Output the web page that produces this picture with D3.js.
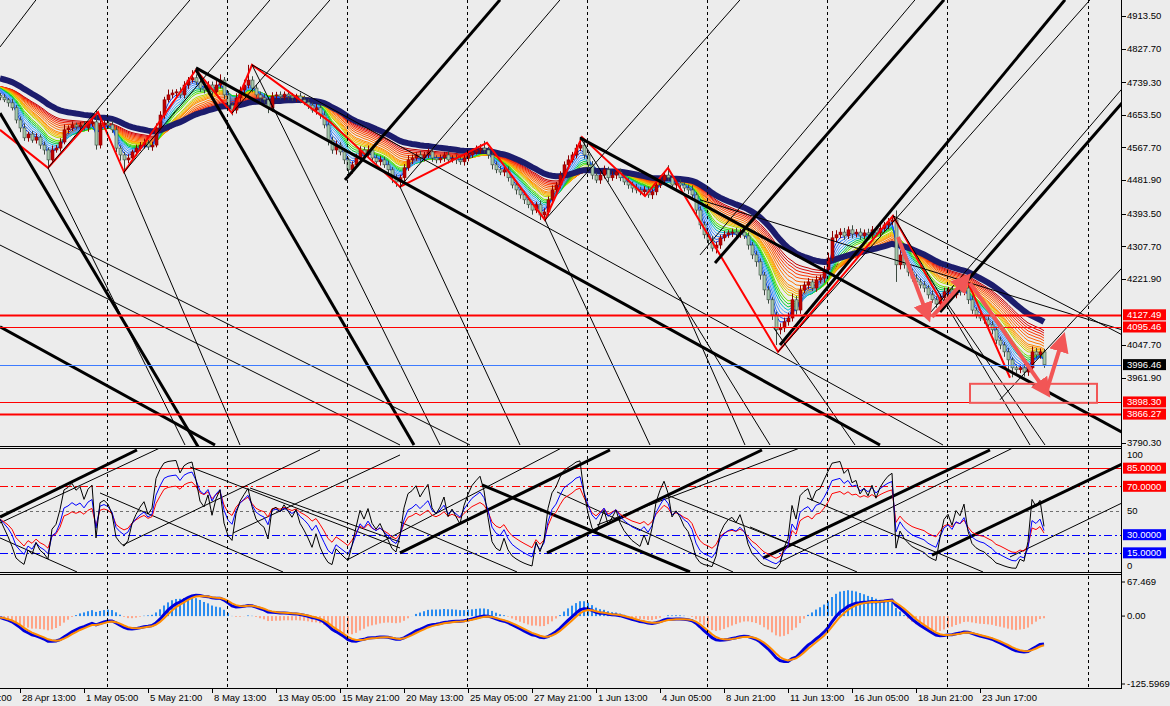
<!DOCTYPE html>
<html><head><meta charset="utf-8">
<script src="https://cdn.jsdelivr.net/npm/d3@7/dist/d3.min.js"></script>
<style>
body{margin:0;background:#ececec;}
svg{display:block;font-family:"Liberation Sans",Arial,sans-serif;font-size:9.5px;}
</style></head><body>
<svg id="chart" width="1170" height="706"></svg>
<script>
// H4 candles, one per bar (bar 0 = left edge), closes
const closes = [
4700,4693,4685,4672,4640,4619,4593,4603,4587,4595,
4574,4561,4535,4561,4566,4582,4614,4619,4627,4622,
4627,4619,4630,4635,4574,4627,4632,4627,4614,4566,
4548,4535,4540,4556,4566,4574,4580,4569,4574,4619,
4653,4693,4706,4711,4714,4706,4732,4745,4751,4740,
4724,4719,4732,4714,4732,4745,4706,4679,4666,4698,
4719,4732,4745,4724,4706,4698,4693,4672,4703,4706,
4701,4708,4703,4698,4703,4693,4687,4679,4666,4672,
4653,4627,4587,4561,4574,4556,4535,4509,4522,4540,
4561,4548,4561,4540,4530,4535,4522,4509,4488,4477,
4488,4514,4535,4540,4548,4540,4548,4556,4540,4535,
4540,4548,4535,4540,4535,4530,4540,4548,4556,4561,
4566,4561,4548,4522,4509,4503,4509,4488,4469,4456,
4443,4430,4417,4403,4417,4390,4398,4430,4456,4469,
4495,4522,4535,4548,4566,4574,4548,4522,4495,4482,
4495,4509,4488,4495,4503,4488,4477,4469,4461,4456,
4451,4456,4443,4451,4469,4482,4495,4488,4469,4474,
4469,4461,4456,4443,4403,4364,4338,4324,4303,4311,
4330,4338,4343,4345,4340,4345,4335,4311,4285,4267,
4232,4193,4167,4127,4088,4093,4109,4119,4167,4140,
4193,4206,4214,4198,4219,4224,4246,4277,4330,4338,
4345,4335,4351,4340,4345,4335,4343,4338,4351,4343,
4355,4364,4372,4377,4259,4285,4259,4240,4224,4214,
4206,4198,4180,4167,4156,4172,4188,4193,4180,4193,
4188,4198,4167,4140,4127,4119,4114,4101,4088,4061,
4048,4030,4009,3988,3983,3988,3977,3988,4030,4022,
4030,3996
];
const upWick = [
6,8,5,10,7,9,12,6,8,10, 7,9,6,12,8,10,14,7,9,6, 8,10,7,9,30,12,8,6,10,9, 7,8,10,6,9,8,11,7,9,12,
10,8,14,9,7,12,10,8,20,9, 11,8,10,9,12,15,8,10,7,12, 9,14,40,10,8,9,11,7,10,8, 9,7,10,8,6,9,11,8,7,10,
8,10,7,9,12,8,10,6,9,11, 10,8,12,7,9,10,8,11,7,9, 8,10,12,9,7,10,8,9,11,7, 9,8,10,7,9,11,8,10,9,12,
10,19,8,7,9,10,8,9,7,10, 8,10,7,9,8,11,10,9,12,8, 10,9,12,8,10,21,9,8,10,7, 9,11,8,10,7,9,8,10,9,11,
8,10,9,7,11,12,10,26,8,9, 10,8,9,12,7,10,9,8,11,9, 8,10,7,9,11,8,10,9,8,10, 9,8,10,7,9,12,11,14,16,10,
12,9,10,8,11,9,10,14,18,12, 10,11,9,12,8,10,9,11,10,9, 12,8,10,13,25,12,9,10,8,11, 9,10,8,12,9,10,11,8,10,9,
8,10,9,11,7,10,8,9,10,8, 9,8,10,7,9,8,10,12,14,10, 9,8
];
const dnWick = [
8,6,10,7,9,11,8,10,7,9, 10,12,21,8,7,9,6,10,8,7, 9,7,10,8,12,9,7,10,8,11, 15,32,9,8,10,7,9,8,10,6,
8,10,7,9,11,8,9,10,7,8, 10,9,12,8,10,9,11,12,14,9, 10,8,9,11,7,10,9,14,10,8, 7,9,10,8,11,9,8,10,7,12,
10,9,14,10,12,9,11,13,10,8, 9,10,8,11,9,10,8,12,14,13, 10,9,8,11,7,10,9,8,10,9, 8,10,9,7,11,8,10,9,8,7,
9,8,10,12,9,8,11,10,9,12, 10,11,9,12,8,13,10,9,8,10, 9,8,10,7,9,8,10,9,11,8, 10,9,11,8,10,9,8,10,12,9,
9,10,8,11,9,8,10,9,11,10, 8,9,11,10,12,11,10,13,9,14, 10,9,8,11,9,10,8,12,11,13, 12,14,10,13,40,12,11,10,9,12,
10,9,11,8,10,9,12,10,8,11, 9,10,8,11,9,10,8,9,10,9, 10,9,11,8,45,12,10,11,9,10, 9,11,10,8,10,9,11,10,8,9,
10,9,11,10,9,8,10,11,12,10, 11,13,27,25,10,9,12,10,8,9, 10,8
];
const firstOpen = 4705;
const ribbonSeed = 4730;
const navySeed = 4752;
const rsiSeedGain = 4.5, rsiSeedLoss = 6;

// moving-average ribbon periods, fastest (blue) to slowest (red)
const ribbonPeriods = [3,4,5,6,7,8,9,10,12,13,14,15,16,18,20,22,24,26,28,30];
const navyPeriod = 38;

// right price axis
const priceTicks = [4913.50,4827.70,4739.30,4653.50,4567.70,4481.90,4393.50,4307.70,4221.90,4047.70,3961.90,3790.30];
const levelValues = [4127.49,4095.46,3996.46,3898.30,3866.27];

// zigzag vertices (bar, price)
const zigBars   = [0,12,24.5,31,49,58,63,82.5,100,121.75,136.25,145.5,161.25,167,194.5,223.25,235.75,241.75,252.5];
const zigPrices = [4614,4514,4661,4503,4772,4658,4785,4635,4464,4580,4377,4595,4440,4514,4030,4388,4154,4219,3962];

// hand-drawn arrows and box (bar, price)
const arrows = [[224.5,4332,232,4122],[233,4122,241.75,4225],[242.5,4211,261.75,3922],[261.75,3930,265.75,4067]];
const boxRange = [242.5,3946,274.25,3896];

// trend lines in the price window (bar, price, bar, price)
const priceThick = [
[49,4777,220,3785],[145,4593,280.5,3819],[178.75,4264,236,4956],[235,4135,280.5,4685],
[195,4048,266.25,4956],[49,4772,103.5,3785],[0,4658,50,3772],[0,4096,53.75,3785],[86.25,4482,125,4956]
];
const priceThin = [
[0,4832,9,4956],[12,4514,47.5,4956],[31,4503,67.5,4956],[58,4658,82.5,4956],[100,4464,140,4956],
[136.25,4377,185,4956],[194.5,4030,272.5,4956],[232.5,4132,280.5,4722],[250,3904,280.5,4251],
[175,4285,228.75,4956],[223.25,4388,280.5,4075],[0,4403,117.5,3785],[0,4311,100,3785],
[63,4785,235.75,3785],[175,4430,280.5,4088],[12,4514,46.25,3785],[31,4503,60,3785],
[63,4785,110,3785],[100,4464,130,3785],[136.25,4377,162.5,3785],[145,4595,192.5,3785],
[170,4174,186.25,3785],[193.25,4096,213.75,3785],[236.75,4159,261.25,3785],[223.25,4388,257.5,3785]
];

// oscillator window
const oscLevels = [85,70,50,30,15];
const oscThick = [
[0,44.6,34.25,100],[100,14.9,152.5,100],[136.75,14.9,190.5,100],[190.75,10.7,247.5,100],
[233,13.2,280.5,88.4],[120.5,71.1,172.5,-0.8]
];
const oscThin = [
[0,39.7,40,101.7],[30.75,21.5,80,100],[58.25,31.4,100,95.9],[86.75,9.1,140,101],
[149.25,38,200,101.7],[195,7.4,253.25,101.7],[252.5,11.6,280.5,56.2],
[0,27.3,19.25,-0.8],[25,64.5,70.75,-0.8],[47.5,86,100,19],[62.5,68.6,100,24],
[100,40.5,129.25,-0.8],[139.25,65.3,183.25,-0.8],[166.75,62.8,200,19],
[187.5,36.4,214.25,-0.8],[201.75,60.3,245.75,-0.8]
];

// time axis
const timeLabels = ["23 Apr 21:00","28 Apr 13:00","1 May 05:00","5 May 21:00","8 May 13:00","13 May 05:00",
"15 May 21:00","20 May 13:00","25 May 05:00","27 May 21:00","1 Jun 13:00","4 Jun 05:00","8 Jun 21:00",
"11 Jun 13:00","16 Jun 05:00","18 Jun 21:00","23 Jun 17:00"];
const timeLabelBars = [-11,5,21,37,53,69,85,101,117,133,149,165,181,197,213,229,245];
const gridBars = [26.75,56.75,86.75,116.75,146.75,176.75,206.75,236.75,272];

// ---------- indicators ----------
function ema(src, n, seed) {
  const k = 2 / (n + 1);
  let prev = seed === undefined ? src[0] : seed;
  return src.map(v => (prev = prev + k * (v - prev)));
}
function rsi(src, n) {
  let ag = rsiSeedGain, al = rsiSeedLoss;
  return src.map((v, i) => {
    const d = i ? v - src[i - 1] : 0;
    ag = (ag * (n - 1) + Math.max(d, 0)) / n;
    al = (al * (n - 1) + Math.max(-d, 0)) / n;
    return 100 - 100 / (1 + ag / al);
  });
}

const candles = closes.map((c, i) => {
  const o = i ? closes[i - 1] : firstOpen;
  return {i, o, c, h: Math.max(o, c) + upWick[i], l: Math.min(o, c) - dnWick[i]};
});
const ribbon = ribbonPeriods.map(p => ema(closes, p, ribbonSeed));
const navy = ema(closes, navyPeriod, navySeed);
const rsiFast = rsi(closes, 5), rsiMid = rsi(closes, 9), rsiSlow = rsi(closes, 14);
const e12 = ema(closes, 12, ribbonSeed), e26 = ema(closes, 26, ribbonSeed);
const macd = e12.map((v, i) => v - e26[i]);
const signal = ema(macd, 3);
const macdSlow = ema(macd, 24);
const hist = macd.map((v, i) => v - macdSlow[i]);

// ---------- drawing ----------
const svg = d3.select('#chart');
const axisX = 1122;
const x = d3.scaleLinear().domain([0, 280.5]).range([0, axisX]);
const yP = d3.scaleLinear().domain([3790.3, 4913.5]).range([443, 16]);
const yS = d3.scaleLinear().domain([0, 100]).range([571, 450]);
const yM = d3.scaleLinear().domain([-125.5969, 67.469]).range([687, 578]);

const defs = svg.append('defs');
[['cp-main', 0, 446], ['cp-osc', 449, 123], ['cp-macd', 575, 113]].forEach(([id, y0, h]) => {
  defs.append('clipPath').attr('id', id).append('rect').attr('x', 0).attr('y', y0).attr('width', axisX).attr('height', h);
});
const mainG = svg.append('g').attr('clip-path', 'url(#cp-main)');
const oscG = svg.append('g').attr('clip-path', 'url(#cp-osc)');
const macdG = svg.append('g').attr('clip-path', 'url(#cp-macd)');

// grid
svg.append('g').selectAll('line').data(gridBars).join('line')
  .attr('x1', d => Math.round(x(d)) + 0.5).attr('x2', d => Math.round(x(d)) + 0.5)
  .attr('y1', 0).attr('y2', 688).attr('stroke', '#000').attr('stroke-dasharray', '3,3');

// ribbon + navy MA
const lineP = d3.line().x((d, i) => x(i)).y(d => yP(d));
const ribbonColors = ['#0040ff','#1e6cff','#3c8cff','#5aa8ff','#00b4d8','#00c840','#20dc20','#70e000','#b8d800','#f0c000',
  '#ffae00','#ff9a00','#ff8800','#ff7400','#ff6000','#ff4c00','#ff3600','#f02000','#dc0c0c','#c00000'];
mainG.append('g').selectAll('path').data(ribbon.slice().reverse()).join('path')
  .attr('d', lineP).attr('fill', 'none').attr('stroke-width', 1)
  .attr('stroke', (d, i) => ribbonColors[ribbonColors.length - 1 - i]);
mainG.append('path').attr('d', lineP(navy)).attr('fill', 'none').attr('stroke', '#1c1c6c').attr('stroke-width', 6);

// candles
const cg = mainG.append('g');
cg.selectAll('line').data(candles).join('line')
  .attr('x1', d => Math.round(x(d.i)) + 0.5).attr('x2', d => Math.round(x(d.i)) + 0.5)
  .attr('y1', d => yP(d.h)).attr('y2', d => yP(d.l))
  .attr('stroke', d => d.c >= d.o ? '#8a0000' : '#3c4a40');
cg.selectAll('rect').data(candles).join('rect')
  .attr('x', d => Math.round(x(d.i)) - 1).attr('width', 3)
  .attr('y', d => yP(Math.max(d.o, d.c))).attr('height', d => Math.max(1, yP(Math.min(d.o, d.c)) - yP(Math.max(d.o, d.c))))
  .attr('fill', d => d.c >= d.o ? '#c00000' : '#a4c8ac')
  .attr('stroke', d => d.c >= d.o ? '#8a0000' : '#3c4a40').attr('stroke-width', 0.6);

// zigzag
mainG.append('path')
  .attr('d', d3.line().x(d => x(d[0])).y(d => yP(d[1]))(zigBars.map((b, i) => [b, zigPrices[i]])))
  .attr('fill', 'none').attr('stroke', '#ff0000').attr('stroke-width', 2);

// trend lines
function drawLines(g, data, ys, w) {
  g.append('g').selectAll('line').data(data).join('line')
    .attr('x1', d => x(d[0])).attr('y1', d => ys(d[1])).attr('x2', d => x(d[2])).attr('y2', d => ys(d[3]))
    .attr('stroke', '#000').attr('stroke-width', w);
}
drawLines(mainG, priceThin, yP, 1);
drawLines(mainG, priceThick, yP, 3);

// horizontal levels
const levelColors = ['#ff0000', '#ff0000', '#3d7bff', '#ff0000', '#ff0000'];
const levelWidths = [2, 1, 1, 1, 2];
const levelBoxes = ['#ff0000', '#ff0000', '#000000', '#ff0000', '#ff0000'];
mainG.append('g').selectAll('line').data(levelValues).join('line')
  .attr('x1', 0).attr('x2', axisX).attr('y1', d => Math.round(yP(d)) + 0.5).attr('y2', d => Math.round(yP(d)) + 0.5)
  .attr('stroke', (d, i) => levelColors[i]).attr('stroke-width', (d, i) => levelWidths[i]);

// box + arrows
const salmon = '#f25656';
mainG.append('rect').attr('x', x(boxRange[0])).attr('y', yP(boxRange[1]))
  .attr('width', x(boxRange[2]) - x(boxRange[0])).attr('height', yP(boxRange[3]) - yP(boxRange[1]))
  .attr('fill', 'none').attr('stroke', salmon).attr('stroke-width', 2);
defs.append('marker').attr('id', 'ah').attr('viewBox', '0 0 10 10').attr('refX', 7).attr('refY', 5)
  .attr('markerWidth', 5).attr('markerHeight', 5).attr('orient', 'auto')
  .append('path').attr('d', 'M0,0L10,5L0,10z').attr('fill', salmon);
svg.append('g').selectAll('line').data(arrows).join('line')
  .attr('x1', d => x(d[0])).attr('y1', d => yP(d[1])).attr('x2', d => x(d[2])).attr('y2', d => yP(d[3]))
  .attr('stroke', salmon).attr('stroke-width', 4).attr('marker-end', 'url(#ah)');

// oscillator window
const oscStyle = {85: ['#ff0000', null], 70: ['#ff0000', '8,3,2,3'], 50: ['#707070', '3,3'], 30: ['#0000ff', '8,3,2,3'], 15: ['#0000ff', '8,3,2,3']};
oscG.append('g').selectAll('line').data(oscLevels).join('line')
  .attr('x1', 0).attr('x2', axisX).attr('y1', d => Math.round(yS(d)) + 0.5).attr('y2', d => Math.round(yS(d)) + 0.5)
  .attr('stroke', d => oscStyle[d][0]).attr('stroke-dasharray', d => oscStyle[d][1]);
drawLines(oscG, oscThin, yS, 1);
drawLines(oscG, oscThick, yS, 3);
const lineS = d3.line().x((d, i) => x(i)).y(d => yS(d));
[[rsiSlow, '#ff0000'], [rsiMid, '#0000ff'], [rsiFast, '#000000']].forEach(([s, c]) => {
  oscG.append('path').attr('d', lineS(s)).attr('fill', 'none').attr('stroke', c).attr('stroke-width', 1);
});

// MACD window
macdG.append('g').selectAll('rect').data(hist).join('rect')
  .attr('x', (d, i) => Math.round(x(i)) - 1).attr('width', 2)
  .attr('y', d => Math.min(yM(d), yM(0))).attr('height', d => Math.abs(yM(d) - yM(0)))
  .attr('fill', d => d >= 0 ? '#2a8cf0' : '#ffa487');
const lineM = d3.line().x((d, i) => x(i)).y(d => yM(d));
macdG.append('path').attr('d', lineM(macd)).attr('fill', 'none').attr('stroke', '#0000dd').attr('stroke-width', 3);
macdG.append('path').attr('d', lineM(signal)).attr('fill', 'none').attr('stroke', '#ff8c00').attr('stroke-width', 2);

// frame
const frame = svg.append('g').attr('stroke', '#000').attr('shape-rendering', 'crispEdges');
frame.append('line').attr('x1', axisX - 0.5).attr('x2', axisX - 0.5).attr('y1', 0).attr('y2', 689);
[446.5, 448.5, 572.5, 574.5, 688.5].forEach(v => frame.append('line').attr('x1', 0).attr('x2', axisX).attr('y1', v).attr('y2', v));

// price axis
const ax = svg.append('g');
ax.selectAll('line.t').data(priceTicks).join('line').attr('class', 't')
  .attr('x1', axisX).attr('x2', axisX + 4).attr('y1', d => Math.round(yP(d)) + 0.5).attr('y2', d => Math.round(yP(d)) + 0.5)
  .attr('stroke', '#000');
ax.selectAll('text.t').data(priceTicks).join('text').attr('class', 't')
  .attr('x', axisX + 5).attr('y', d => yP(d)).attr('dy', '0.35em').text(d => d.toFixed(2));
const lvl = ax.selectAll('g.l').data(levelValues).join('g').attr('class', 'l');
lvl.append('rect').attr('x', axisX + 1).attr('y', d => yP(d) - 5.5).attr('width', 43).attr('height', 11)
  .attr('fill', (d, i) => levelBoxes[i]);
lvl.append('text').attr('x', axisX + 5).attr('y', d => yP(d)).attr('dy', '0.35em').attr('fill', '#fff').text(d => d.toFixed(2));

// oscillator axis
const oscAxis = [[100, null], [85, '#ff0000'], [70, '#ff0000'], [50, null], [30, '#0000ff'], [15, '#0000ff'], [0, null]];
oscAxis.forEach(([v, box]) => {
  const yy = v === 100 ? yS(v) + 5 : v === 0 ? yS(v) - 5 : yS(v);
  if (box) ax.append('rect').attr('x', axisX + 1).attr('y', yy - 5.5).attr('width', 43).attr('height', 11).attr('fill', box);
  ax.append('text').attr('x', axisX + 5).attr('y', yy).attr('dy', '0.35em').attr('fill', box ? '#fff' : '#000')
    .text(box ? v.toFixed(4) : v);
});

// macd axis
[[67.469, '67.469', 4], [0, '0.00', 0], [-125.5969, '-125.5969', -3]].forEach(([v, t, off]) => {
  ax.append('line').attr('x1', axisX).attr('x2', axisX + 3).attr('y1', yM(v) + off).attr('y2', yM(v) + off).attr('stroke', '#000');
  ax.append('text').attr('x', axisX + 5).attr('y', yM(v) + off).attr('dy', '0.35em').text(t);
});

// time axis
const tx = svg.append('g');
tx.selectAll('line').data(timeLabelBars).join('line')
  .attr('x1', d => Math.round(x(d)) + 0.5).attr('x2', d => Math.round(x(d)) + 0.5).attr('y1', 689).attr('y2', 693).attr('stroke', '#000');
tx.selectAll('text').data(timeLabels).join('text')
  .attr('x', (d, i) => x(timeLabelBars[i]) + 2).attr('y', 701).text(d => d);
</script></body></html>
